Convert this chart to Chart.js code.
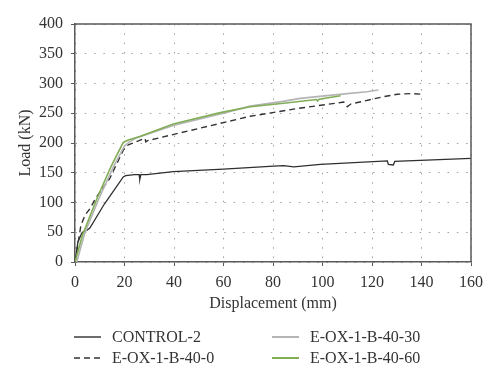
<!DOCTYPE html>
<html>
<head>
<meta charset="utf-8">
<script src="https://cdn.jsdelivr.net/npm/chart.js@4"></script>
<style>
  html, body { margin: 0; padding: 0; background: #ffffff; }
  #wrap { width: 500px; height: 380px; }
</style>
</head>
<body>
<div id="wrap"><canvas id="c" width="500" height="380"></canvas></div>
<script>
// ---- data ----
const seriesNames = ['CONTROL-2', 'E-OX-1-B-40-0', 'E-OX-1-B-40-30', 'E-OX-1-B-40-60'];

const controlX = [0, 1.2, 2.7, 3.4, 5, 6, 11.8, 19.5, 20.5, 24, 25.9, 26.2, 26.6, 29, 39.7, 60, 80.3, 84.3, 88.4, 99.2, 126.2, 126.6, 128.6, 129.2, 160];
const controlY = [0, 34, 48, 51, 54, 57, 97, 143, 145, 147, 147, 139, 147, 147, 152, 156, 161, 162, 160, 164, 170, 164, 163, 169, 174];

const ox0X = [0, 0.6, 2.4, 4.1, 6.1, 8.2, 10.5, 14, 19.5, 21.5, 24, 28.3, 28.6, 29.3, 38.4, 58.7, 70.8, 90, 107.3, 108.6, 110, 111.4, 124.8, 130.3, 135.7, 140.1];
const ox0Y = [0, 15, 62, 79, 90, 106, 120, 140, 188, 197, 201, 208, 202, 204, 213, 233, 245, 258, 268, 269, 261, 265.5, 278, 282, 283, 282];

const ox30X = [0.7, 4, 10, 15.5, 20, 22, 25, 40, 60, 70.8, 84, 91, 97.8, 110, 118, 122.6];
const ox30Y = [0, 49, 110, 160, 195, 202, 209, 230, 250, 262, 270, 275, 278, 283, 286, 289];

const ox60X = [0, 3, 9, 14.5, 19.5, 21.5, 26.2, 39.7, 58.7, 70.8, 84.3, 97.5, 98, 98.6, 107.3];
const ox60Y = [0, 45, 108, 160, 201, 205, 211, 232, 251, 261, 266.7, 273, 270.6, 273.5, 279.5];

const xTickMin = 0, xTickMax = 160, xTickStep = 20;
const yTickMin = 0, yTickMax = 400, yTickStep = 50;

const xTitle = 'Displacement (mm)';
const yTitle = 'Load (kN)';

// ---- styling ----
const FONT = "'Liberation Serif', 'Times New Roman', serif";
const TEXT = '#333333';
const colors = ['#2f2f2f', '#333333', '#b4b4b4', '#80ad55'];
const dashes = [[], [6, 4], [], []];
const widths = [1.3, 1.4, 1.6, 1.6];

function pts(xs, ys) { return xs.map((x, i) => ({ x: x, y: ys[i] })); }
const seriesData = [pts(controlX, controlY), pts(ox0X, ox0Y), pts(ox30X, ox30Y), pts(ox60X, ox60Y)];
const drawOrder = [3, 2, 1, 0];

const datasets = seriesNames.map((name, i) => ({
  label: name,
  data: seriesData[i],
  borderColor: colors[i],
  backgroundColor: colors[i],
  borderWidth: widths[i],
  borderDash: dashes[i],
  pointRadius: 0,
  tension: 0,
  fill: false,
  order: drawOrder[i]
}));

const framePlugin = {
  id: 'frame',
  afterDatasetsDraw(chart) {
    const a = chart.chartArea, ctx = chart.ctx;
    ctx.save();
    ctx.strokeStyle = '#5a5a5a';
    ctx.lineWidth = 1.5;
    ctx.beginPath();
    ctx.moveTo(a.left, a.top);
    ctx.lineTo(a.right, a.top);
    ctx.lineTo(a.right, a.bottom);
    ctx.stroke();
    ctx.restore();
  }
};

const legendPlugin = {
  id: 'gridLegend',
  afterDraw(chart) {
    const a = chart.chartArea, ctx = chart.ctx;
    const cols = [a.left - 1, a.left + 197];
    const rows = [a.bottom + 75, a.bottom + 96];
    const place = [[0, 0], [0, 1], [1, 0], [1, 1]]; // [col,row]
    ctx.save();
    ctx.font = '16px ' + FONT;
    ctx.textBaseline = 'middle';
    ctx.fillStyle = TEXT;
    seriesNames.forEach((name, i) => {
      const x = cols[place[i][0]], y = rows[place[i][1]];
      ctx.beginPath();
      ctx.strokeStyle = colors[i];
      ctx.lineWidth = i >= 2 ? 2 : 1.4;
      ctx.setLineDash(dashes[i]);
      ctx.moveTo(x, y);
      ctx.lineTo(x + 27, y);
      ctx.stroke();
      ctx.setLineDash([]);
      ctx.fillText(name, x + 38, y + 0.5);
    });
    ctx.restore();
  }
};

new Chart(document.getElementById('c'), {
  type: 'line',
  data: { datasets: datasets },
  plugins: [framePlugin, legendPlugin],
  options: {
    responsive: false,
    animation: false,
    devicePixelRatio: 1,
    layout: { padding: { top: 24, right: 29, left: 0, bottom: 67 } },
    plugins: { legend: { display: false }, tooltip: { enabled: false } },
    scales: {
      x: {
        type: 'linear',
        min: xTickMin, max: xTickMax,
        ticks: { stepSize: xTickStep, color: TEXT, font: { family: FONT, size: 16 }, padding: 7, maxRotation: 0 },
        grid: { color: '#a0a0a0', lineWidth: 1, tickColor: '#5a5a5a', tickLength: 4, tickWidth: 1, tickBorderDash: [] },
        border: { display: true, color: '#5a5a5a', width: 1.5, dash: [1.5, 7.8] },
        title: { display: true, text: xTitle, color: TEXT, font: { family: FONT, size: 16 }, padding: { top: 0, bottom: 0 } },
        afterFit(scale) { scale.height = 51; }
      },
      y: {
        type: 'linear',
        min: yTickMin, max: yTickMax,
        ticks: { stepSize: yTickStep, color: TEXT, font: { family: FONT, size: 16 }, padding: 8 },
        grid: { color: '#a0a0a0', lineWidth: 1, tickColor: '#5a5a5a', tickLength: 4, tickWidth: 1, tickBorderDash: [] },
        border: { display: true, color: '#5a5a5a', width: 1.5, dash: [1.5, 7.8] },
        title: { display: true, text: yTitle, color: TEXT, font: { family: FONT, size: 16 }, padding: { top: 16, bottom: 0 } },
        afterFit(scale) { scale.width = 75; }
      }
    }
  }
});
</script>
</body>
</html>
